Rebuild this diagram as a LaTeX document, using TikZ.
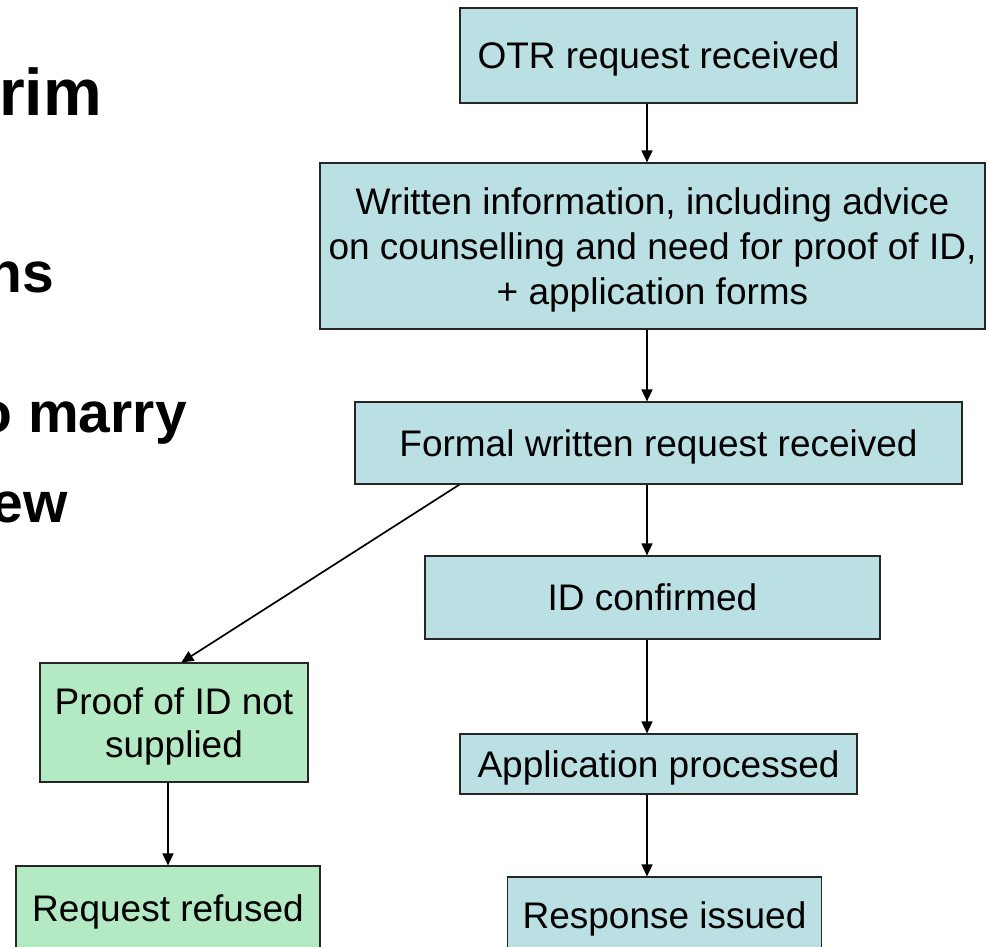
\documentclass[tikz,border=0pt]{standalone}
\usepackage{fontspec}
\setmainfont{Liberation Sans}
\usetikzlibrary{arrows.meta}
\definecolor{boxblue}{RGB}{187,224,227}
\definecolor{boxgreen}{RGB}{179,234,196}

\begin{document}
\begin{tikzpicture}[x=1pt,y=1pt,
        flowbox/.style={shape=rectangle,draw=black!85,line width=1.2pt,fill=boxblue,
            inner sep=0pt,text depth=0pt,align=center,font=\fontsize{37}{45}\selectfont},
        nobox/.style={flowbox,fill=boxgreen,font=\fontsize{37}{43}\selectfont},
        bullet/.style={anchor=base east,inner sep=0pt,font=\fontsize{57}{60}\selectfont\bfseries},
        flow/.style={line width=1.7pt,-{Triangle[length=12pt,width=11pt]}}]
            \useasboundingbox (0,0) rectangle (988,-946);
            \clip (0,0) rectangle (988,-946);

            \node[bullet,font=\fontsize{66}{70}\selectfont\bfseries] (t1) at (102,-115) {rim};
            \node[bullet] (t2) at (54,-292) {ns};
            \node[bullet] (t3) at (187,-432) {o marry};
            \node[bullet] (t4) at (68,-522) {ew};

            \node[flowbox,minimum width=397pt,minimum height=95pt] (otr) at (658.5,-55.5) {OTR request received};
            \node[flowbox,minimum width=665pt,minimum height=166pt] (info) at (652.5,-246)
                {Written information, including advice\\on counselling and need for proof of ID,\\+ application forms};
            \node[flowbox,minimum width=607pt,minimum height=82pt] (formal) at (658.5,-443) {Formal written request received};
            \node[flowbox,minimum width=455pt,minimum height=83pt] (idok) at (652.5,-597.5) {ID confirmed};
            \node[flowbox,minimum width=397pt,minimum height=60pt] (proc) at (658.5,-764) {Application processed};
            \node[flowbox,minimum width=314pt,minimum height=76pt] (resp) at (664.5,-915) {Response issued};
            \node[nobox,minimum width=268pt,minimum height=119pt] (noid) at (174,-722.5) {Proof of ID not\\supplied};
            \node[nobox,minimum width=304pt,minimum height=84pt] (refused) at (168,-908) {Request refused};

            \coordinate (spine) at (647,0);
            \path [flow] (otr.south -| spine) edge (info.north -| spine);
            \path [flow] (info.south -| spine) edge (formal.north -| spine);
            \path [flow] (formal.south -| spine) edge (idok.north -| spine);
            \path [flow] (idok.south -| spine) edge (proc.north -| spine);
            \path [flow] (proc.south -| spine) edge (resp.north -| spine);
            \path [flow] ([xshift=105pt]formal.south west) edge ([xshift=142pt]noid.north west);
            \path [flow] (noid.south -| refused.north) edge (refused.north);
        \end{tikzpicture}
\end{document}
